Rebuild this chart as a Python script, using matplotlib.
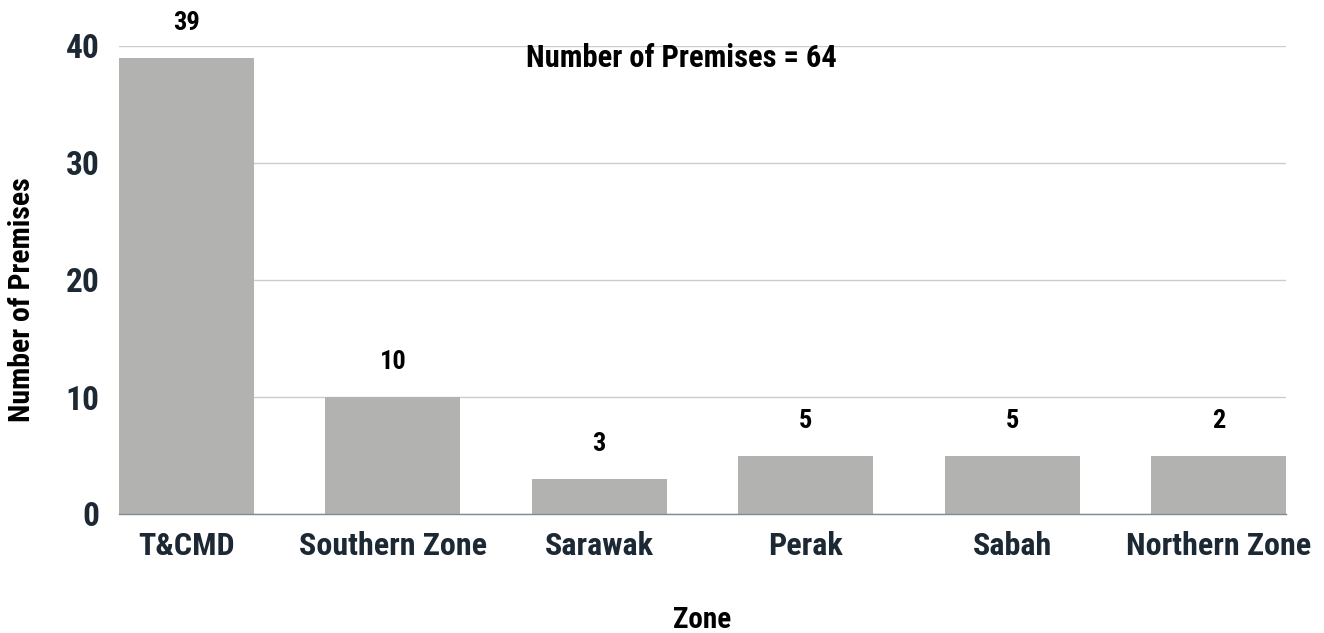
import matplotlib
matplotlib.use("Agg")
import matplotlib.pyplot as plt
from matplotlib import font_manager

zones = ["T&CMD", "Southern Zone", "Sarawak", "Perak", "Sabah", "Northern Zone"]
values = [39, 10, 3, 5, 5, 5]
labels = ["39", "10", "3", "5", "5", "2"]
yticks = [0, 10, 20, 30, 40]
title_text = "Number of Premises = 64"

names = {f.name for f in font_manager.fontManager.ttflist}
fam = [n for n in ["Roboto Condensed", "Liberation Sans Narrow", "Roboto", "DejaVu Sans"] if n in names]
plt.rcParams['font.family'] = fam

fig = plt.figure(figsize=(13.24, 6.33), dpi=100)
ax = fig.add_axes([119/1324, 1 - 514/633, (1286-119)/1324, (514-46)/633])

x = list(range(len(zones)))
w = 0.654
ax.bar(x, values, width=w, color="#b2b2b1", zorder=2)
ax.set_xlim(-w/2, len(zones) - 1 + w/2)
ax.set_ylim(0, 40)
ax.set_yticks(yticks)
ax.set_xticks(x)
ax.set_xticklabels(zones)
ax.yaxis.grid(True, color="#cccccc", linewidth=1, zorder=0)
ax.set_axisbelow(True)
for s in ["top", "right", "left"]:
    ax.spines[s].set_visible(False)
ax.spines["bottom"].set_color("#7f8a93")
ax.spines["bottom"].set_linewidth(1)
ax.tick_params(axis="x", length=0, labelsize=23, labelcolor="#1c2833", pad=12)
ax.tick_params(axis="y", length=0, labelsize=24, labelcolor="#1c2833", pad=14)
for t in ax.get_xticklabels() + ax.get_yticklabels():
    t.set_fontweight("bold")

for xi, v, lab in zip(x, values, labels):
    ax.annotate(lab, (xi, v), xytext=(0, 25), textcoords="offset points",
                ha="center", va="center", fontsize=19, fontweight="bold", color="black",
                annotation_clip=False)

ax.text(0.482, 0.975, title_text, transform=ax.transAxes, ha="center", va="center",
        fontsize=22, fontweight="bold", color="black")

ax.set_ylabel("Number of Premises", fontsize=21.5, fontweight="bold", color="black",
              va="center", ha="center")
ax.yaxis.set_label_coords(-0.083, 0.457)
ax.set_xlabel("Zone", fontsize=21, fontweight="bold", color="black", va="center")
ax.xaxis.set_label_coords(0.5, -0.2265)

fig.savefig("out.png", dpi=100)
